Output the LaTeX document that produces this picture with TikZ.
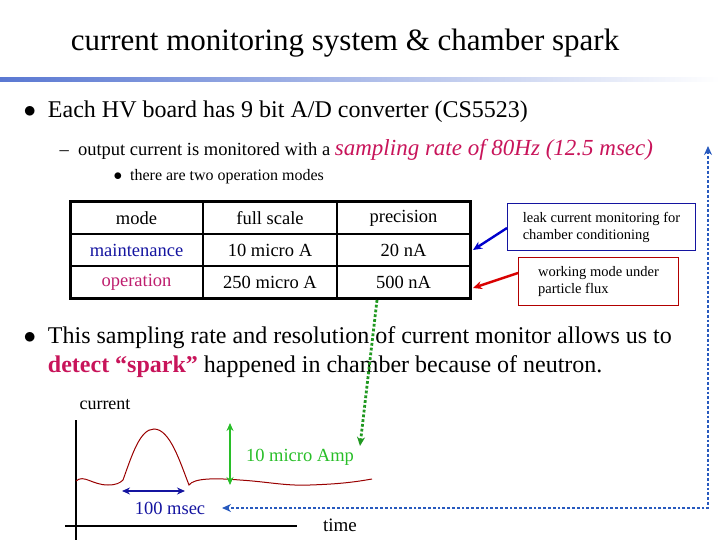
\documentclass[tikz,border=0pt]{standalone}
\usepackage{fontspec}
\setmainfont{Liberation Serif}
\usetikzlibrary{arrows.meta}
\definecolor{titleblue}{RGB}{90,120,210}
\definecolor{mblue}{RGB}{20,20,160}
\definecolor{opred}{RGB}{190,30,110}
\definecolor{spark}{RGB}{200,20,90}
\definecolor{gr}{RGB}{40,190,40}
\definecolor{dblue}{RGB}{40,90,190}
\begin{document}
\begin{tikzpicture}[x=1pt,y=-1pt,
  cell/.style={minimum width=133pt,minimum height=32pt,inner sep=0pt,font=\fontsize{18.5}{18.5}\selectfont},
  note/.style={draw,inner sep=4pt,align=left,font=\fontsize{14.5}{17}\selectfont},
  arr/.style={-{Stealth[length=9pt,width=8pt]},line width=2.4pt}]
\useasboundingbox (0,0) rectangle (720,540);
\node[font=\fontsize{31}{31}\selectfont] (title) at (345,43) {current monitoring system \& chamber spark};
\shade[left color=titleblue,right color=white] (0,78) rectangle (720,82);
\node[anchor=west,font=\fontsize{24}{24}\selectfont] (b1) at (20,112) {$\bullet$\ \ Each HV board has 9 bit A/D converter (CS5523)};
\node[anchor=west,font=\fontsize{18.5}{18.5}\selectfont] (b2) at (56,150) {--\ \ output current is monitored with a \textcolor{spark}{\fontsize{23}{23}\selectfont\itshape sampling rate of 80Hz (12.5 msec)}};
\node[anchor=west,font=\fontsize{16}{16}\selectfont] (b3) at (110,177) {$\bullet$\ \ there are two operation modes};
% table
\node[cell] (m) at (136.5,218) {mode};
\node[cell] (f) at (270,218) {full scale};
\node[cell] (p) at (403.5,218) {precision};
\node[cell,text=mblue] (m1) at (136.5,250) {maintenance};
\node[cell] (f1) at (270,250) {10 micro A};
\node[cell] (p1) at (403.5,250) {20 nA};
\node[cell,text=opred] (m2) at (136.5,282) {operation};
\node[cell] (f2) at (270,282) {250 micro A};
\node[cell] (p2) at (403.5,282) {500 nA};
\draw[line width=3pt] (70,202) rectangle (470,298);
\draw[line width=1.8pt] (203,202)--(203,298) (337,202)--(337,298) (70,234)--(470,234) (70,266)--(470,266);
\node[note,draw=mblue,line width=1pt,minimum width=188pt,minimum height=47pt,anchor=north west] (leak) at (507,203) {leak current monitoring for\\chamber conditioning};
\node[note,draw=red!70!black,line width=1pt,minimum width=160pt,minimum height=48pt,anchor=north west] (work) at (518,257) {working mode under\\particle flux};
\draw[arr,blue!80!black] (leak.west|-0,228) -- (473,250);
\draw[arr,red!85!black] (work.west|-0,273) -- (473,288);
\node[anchor=west,font=\fontsize{24}{29}\selectfont,align=left] (b4) at (20,352) {$\bullet$\ \ This sampling rate and resolution of current monitor allows us to\\\phantom{$\bullet$\ \ }\textcolor{spark}{\bfseries detect “spark”} happened in chamber because of neutron.};
% plot
\node[font=\fontsize{18}{18}\selectfont] (cur) at (105,405) {current};
\coordinate (ytop) at (76,420); \coordinate (ybot) at (76,540);
\coordinate (xl) at (65,526); \coordinate (xr) at (297,526);
\draw[line width=1.1pt] (ytop)--(ybot) (xl)--(xr);
\node[font=\fontsize{19}{19}\selectfont] (time) at (340,525) {time};
\draw[red!60!black,line width=1pt] (76,481) .. controls (84,474) and (92,485) .. (108,485) .. controls (116,485) and (120,483) .. (123,480) .. controls (132,455) and (140,429) .. (154,429) .. controls (170,429) and (180,462) .. (189,485) .. controls (194,478) and (215,478) .. (240,480) .. controls (270,482) and (285,486) .. (310,485) .. controls (340,484) and (355,482) .. (372,479);
\draw[{Stealth[length=8pt,width=7pt]}-{Stealth[length=8pt,width=7pt]},gr,line width=2.6pt] (230,423)--(230,485);
\node[text=gr,font=\fontsize{18.5}{18.5}\selectfont] (amp) at (300,457) {10 micro Amp};
\draw[{Stealth[length=8pt,width=7pt]}-{Stealth[length=8pt,width=7pt]},mblue,line width=2.8pt] (122,491)--(185,491);
\node[text=mblue,font=\fontsize{18.5}{18.5}\selectfont] (ms) at (170,508) {100 msec};
% dotted connectors
\coordinate (gtop) at (377,300);
\draw[-{Stealth[length=9pt,width=8pt]},gr!80!black,line width=2.8pt,dotted] (gtop)--(360,446);
\draw[{Stealth[length=9pt,width=8pt]}-{Stealth[length=9pt,width=8pt]},dblue,line width=2.8pt,dotted] (708,146)--(708,508)--(222,508);
\end{tikzpicture}
\end{document}
